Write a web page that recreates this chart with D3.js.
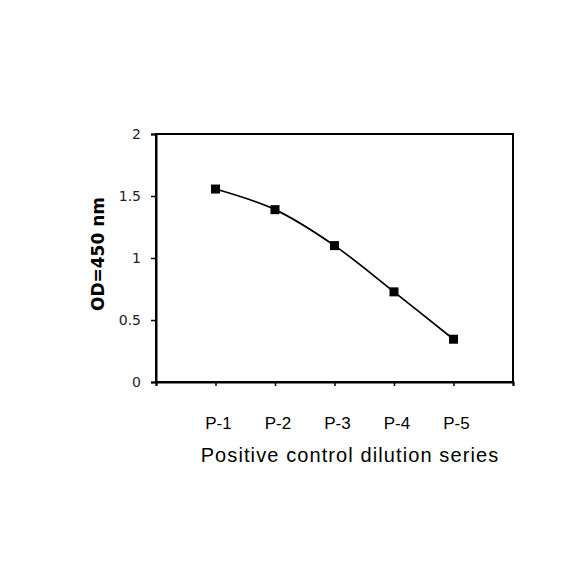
<!DOCTYPE html>
<html>
<head>
<meta charset="utf-8">
<script src="https://cdn.jsdelivr.net/npm/d3@7"></script>
<style>
  body { margin: 0; background: #fff; }
</style>
</head>
<body>
<svg id="chart"></svg>
<script>
// data
var categories = ["P-1", "P-2", "P-3", "P-4", "P-5"]
var odValues = [1.556, 1.39, 1.10, 0.727, 0.345]
var yTicks = [0, 0.5, 1, 1.5, 2]

var width = 584, height = 584
var plotLeft = 156, plotRight = 513, plotTop = 134, plotBottom = 382

var svg = d3.select("#chart")
    .attr("width", width)
    .attr("height", height)

var x = d3.scaleLinear().domain([0, 6]).range([plotLeft, plotRight])
var y = d3.scaleLinear().domain([0, 2]).range([plotBottom, plotTop])

// frame
svg.append("rect")
    .attr("x", plotLeft).attr("y", plotTop)
    .attr("width", plotRight - plotLeft).attr("height", plotBottom - plotTop)
    .attr("fill", "none")
    .attr("stroke", "#000")
    .attr("stroke-width", 2)

// y axis
var yAxis = svg.append("g")
    .attr("transform", "translate(" + plotLeft + ",0)")
    .call(d3.axisLeft(y).tickValues(yTicks).tickSize(5).tickPadding(10)
        .tickFormat(function(d){ return String(d) }))
yAxis.select(".domain").attr("stroke-width", 2)
yAxis.selectAll(".tick line").attr("stroke-width", 1.5)
yAxis.selectAll("text")
    .style("font-family", "'DejaVu Sans', Verdana, sans-serif")
    .style("font-size", "14px")
    .attr("fill", "#222")

// x axis, ticks only between categories
var xAxis = svg.append("g")
    .attr("transform", "translate(0," + plotBottom + ")")
    .call(d3.axisBottom(x).tickValues(d3.range(0, 7)).tickSize(4).tickFormat(""))
xAxis.select(".domain").attr("stroke-width", 2)
xAxis.selectAll(".tick line").attr("stroke-width", 1.5)

// category labels
svg.selectAll(".cat")
    .data(categories)
    .enter()
    .append("text")
    .attr("class", "cat")
    .attr("x", function(d, i){ return x(i + 1) + 3 })
    .attr("y", 429)
    .attr("text-anchor", "middle")
    .style("font-family", "'Liberation Sans', Arial, sans-serif")
    .style("font-size", "17px")
    .text(function(d){ return d })

// axis titles
svg.append("text")
    .attr("x", 350)
    .attr("y", 462)
    .attr("text-anchor", "middle")
    .style("font-family", "'Liberation Sans', Arial, sans-serif")
    .style("font-size", "20px")
    .style("letter-spacing", "1.1px")
    .text("Positive control dilution series")

svg.append("text")
    .attr("transform", "translate(104,254) rotate(-90)")
    .attr("text-anchor", "middle")
    .style("font-family", "'DejaVu Sans', Verdana, sans-serif")
    .style("font-weight", "bold")
    .style("font-size", "17px")
    .text("OD=450 nm")

// curve
var points = odValues.map(function(v, i){ return [x(i + 1), y(v)] })
var line = d3.line().curve(d3.curveCatmullRom.alpha(0.5))
svg.append("path")
    .attr("d", line(points))
    .attr("fill", "none")
    .attr("stroke", "#000")
    .attr("stroke-width", 1.7)

// square markers
var m = 9
svg.selectAll(".marker")
    .data(points)
    .enter()
    .append("rect")
    .attr("class", "marker")
    .attr("x", function(d){ return d[0] - m / 2 })
    .attr("y", function(d){ return d[1] - m / 2 })
    .attr("width", m)
    .attr("height", m)
    .attr("fill", "#000")
</script>
</body>
</html>
